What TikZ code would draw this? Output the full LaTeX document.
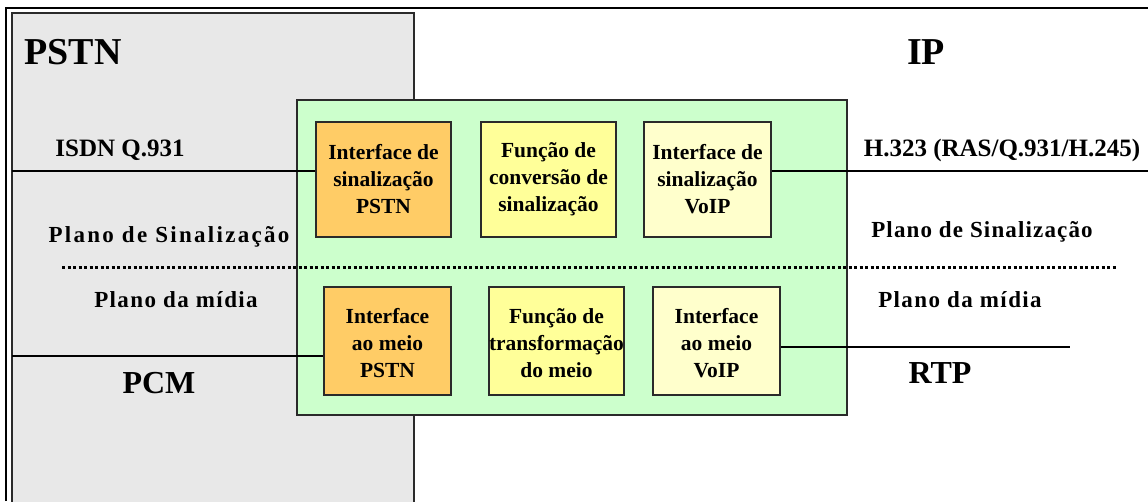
\documentclass[tikz,border=0pt]{standalone}
\usepackage{fontspec}
\setmainfont{Liberation Serif}
\definecolor{grayfill}{HTML}{E8E8E8}
\definecolor{greenfill}{HTML}{CCFFCC}
\definecolor{orangefill}{HTML}{FFCC66}
\definecolor{yellowfill}{HTML}{FFFF99}
\definecolor{paleyellow}{HTML}{FFFFCC}
\definecolor{edge}{HTML}{2A2A2A}
\tikzset{
  fnbox/.style={draw=edge, line width=1.2pt, inner sep=0pt, align=center,
    font=\fontsize{21.5}{27}\selectfont\bfseries},
  lbl/.style={inner sep=0pt, font=\bfseries},
  conn/.style={draw=black, line width=1.2pt},
  planeline/.style={line width=3pt, dash pattern=on 3pt off 2.5pt}
}
\begin{document}
\begin{tikzpicture}[x=1pt,y=-1pt]
\useasboundingbox (0,0) rectangle (1148,501);
\fill[white] (0,0) rectangle (1148,501);
% outer frame
\draw[line width=2pt] (6,501) -- (6,8) -- (1148,8);
% PSTN region
\filldraw[fill=grayfill, draw=edge, line width=1.2pt] (12,510) -- (12,13) -- (414,13) -- (414,510);
% gateway box
\filldraw[fill=greenfill, draw=edge, line width=1.2pt] (297,100) rectangle (847,415);
% plane divider
\draw[planeline] (62,267) -- (1117,267);
% function boxes
\node[fnbox, fill=orangefill, minimum width=135pt, minimum height=115pt] (s1) at (383.5,179.5) {Interface de\\sinalização\\PSTN};
\node[fnbox, fill=yellowfill, minimum width=135pt, minimum height=115pt] (s2) at (548.5,179.5) {Função de\\conversão de\\sinalização};
\node[fnbox, fill=paleyellow, minimum width=127pt, minimum height=115pt] (s3) at (707.5,179.5) {Interface de\\sinalização\\VoIP};
\node[fnbox, fill=orangefill, minimum width=127pt, minimum height=108pt] (m1) at (387.5,341) {\\[-8pt]Interface\\ao meio\\PSTN};
\node[fnbox, fill=yellowfill, minimum width=135pt, minimum height=108pt] (m2) at (556.5,341) {\\[-8pt]Função de\\transformação\\do meio};
\node[fnbox, fill=paleyellow, minimum width=127pt, minimum height=108pt] (m3) at (716.5,341) {\\[-8pt]Interface\\ao meio\\VoIP};
% connector end points
\coordinate (isdnL) at (12,171);
\coordinate (h323R) at (1148,171);
\coordinate (pcmL) at (12,356);
\coordinate (rtpR) at (1070,347);
\draw[conn] (isdnL) -- (isdnL -| s1.west);
\draw[conn] (h323R -| s3.east) -- (h323R);
\draw[conn] (pcmL) -- (pcmL -| m1.west);
\draw[conn] (rtpR -| m3.east) -- (rtpR);
% labels
\node[lbl, font=\fontsize{38}{40}\selectfont\bfseries] (pstn) at (73,52) {PSTN};
\node[lbl, font=\fontsize{38}{40}\selectfont\bfseries] (ip) at (926,52) {IP};
\node[lbl, font=\fontsize{25}{28}\selectfont\bfseries] (isdn) at (120,150) {ISDN Q.931};
\node[lbl, font=\fontsize{25}{28}\selectfont\bfseries] (h323) at (1002,150) {H.323 (RAS/Q.931/H.245)};
\node[lbl, font=\fontsize{23}{26}\selectfont\bfseries\addfontfeature{LetterSpace=10}] (sigL) at (169,237) {Plano de Sinalização};
\node[lbl, font=\fontsize{23}{26}\selectfont\bfseries\addfontfeature{LetterSpace=5}] (sigR) at (982,232) {Plano de Sinalização};
\node[lbl, font=\fontsize{23}{26}\selectfont\bfseries\addfontfeature{LetterSpace=6}] (medL) at (176,300) {Plano da mídia};
\node[lbl, font=\fontsize{23}{26}\selectfont\bfseries\addfontfeature{LetterSpace=6}] (medR) at (960,300) {Plano da mídia};
\node[lbl, font=\fontsize{32}{34}\selectfont\bfseries] (pcm) at (159,383) {PCM};
\node[lbl, font=\fontsize{32}{34}\selectfont\bfseries] (rtp) at (940,373) {RTP};
\end{tikzpicture}
\end{document}
